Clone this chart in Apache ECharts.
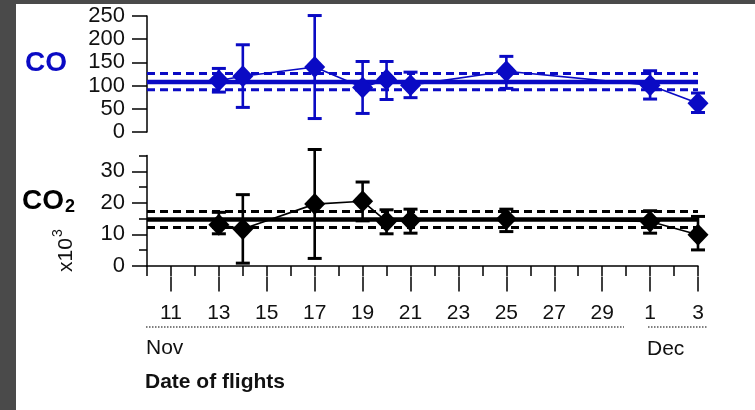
<!DOCTYPE html>
<html>
<head>
<meta charset="utf-8">
<script src="https://cdn.jsdelivr.net/npm/echarts@6/dist/echarts.min.js"></script>
<style>
  html, body { margin: 0; padding: 0; background: #fff; }
  #chart { position: absolute; left: 0; top: 0; width: 755px; height: 410px; }
  .frame { position: absolute; background: #4a4a4a; }
</style>
</head>
<body>
<div id="chart"></div>
<div class="frame" style="left:0;top:0;width:16px;height:410px"></div>
<div class="frame" style="left:0;top:0;width:755px;height:4px"></div>
<script>
// x axis: one tick per day from Nov 10 to Dec 3 (days counted from Nov 0, so Dec 1 = 31)
var dayLabels = ['10', '11', '12', '13', '14', '15', '16', '17', '18', '19', '20',
  '21', '22', '23', '24', '25', '26', '27', '28', '29', '30', '1', '2', '3'];
var flightDays = [13, 14, 17, 19, 20, 21, 25, 31, 33];

// CO
var coValues = [111, 120, 140, 96, 113, 101, 131, 101, 62];
var coLow = [86, 53, 29, 40, 70, 74, 94, 71, 42];
var coHigh = [137, 188, 251, 152, 152, 129, 163, 132, 84];
var coMean = 108;
var coBand = [91, 126];

// CO2 (x10^3)
var co2Values = [13.1, 11.7, 19.6, 20.5, 14.1, 14.4, 14.9, 14.1, 9.9];
var co2Low = [10.2, 0.9, 2.4, 14.3, 10.2, 10.4, 10.9, 10.4, 5.1];
var co2High = [17.0, 22.6, 36.9, 26.6, 17.8, 18.0, 18.0, 17.5, 15.7];
var co2Mean = 14.7;
var co2Band = [12.2, 17.3];
var co2TickLabels = ['0', '5', '10', '15', '20', '25', '30', '35'];

var BLUE = '#0a0ac4';
var FONT = "'Liberation Sans', Arial, sans-serif";
var dayMin = 10, dayMax = 33;

function pairs(xs, ys) {
  return xs.map(function (x, i) { return [x, ys[i]]; });
}

function hLine(v, color, width, dash, xi, yi) {
  return {
    type: 'line', xAxisIndex: xi, yAxisIndex: yi, silent: true, z: 1,
    data: [[dayMin, v], [dayMax, v]], showSymbol: false, symbol: 'none',
    lineStyle: { color: color, width: width, type: dash }
  };
}

function errorBars(low, high, color, xi, yi) {
  return {
    type: 'custom', xAxisIndex: xi, yAxisIndex: yi, silent: true, z: 3,
    data: flightDays.map(function (d, i) { return [d, low[i], high[i]]; }),
    encode: { x: 0, y: [1, 2] },
    renderItem: function (params, api) {
      var lo = api.coord([api.value(0), api.value(1)]);
      var hi = api.coord([api.value(0), api.value(2)]);
      var w = 7;
      var cap = { stroke: color, lineWidth: 3 };
      return {
        type: 'group',
        children: [
          { type: 'line', shape: { x1: hi[0], y1: hi[1], x2: lo[0], y2: lo[1] }, style: { stroke: color, lineWidth: 2.6 } },
          { type: 'line', shape: { x1: hi[0] - w, y1: hi[1], x2: hi[0] + w, y2: hi[1] }, style: cap },
          { type: 'line', shape: { x1: lo[0] - w, y1: lo[1], x2: lo[0] + w, y2: lo[1] }, style: cap }
        ]
      };
    }
  };
}

function joinLine(values, color, xi, yi) {
  return {
    type: 'line', xAxisIndex: xi, yAxisIndex: yi, silent: true, z: 4,
    data: pairs(flightDays, values), symbol: 'none',
    lineStyle: { color: color, width: 1.6 }
  };
}

function diamonds(values, color, xi, yi) {
  return {
    type: 'scatter', xAxisIndex: xi, yAxisIndex: yi, silent: true, z: 5,
    data: pairs(flightDays, values), symbol: 'diamond', symbolSize: [21, 22],
    itemStyle: { color: color, opacity: 1 }
  };
}

var chart = echarts.init(document.getElementById('chart'));

var axisLineStyle = { color: '#000', width: 1.5 };

var option = {
  animation: false,
  backgroundColor: '#fff',
  textStyle: { fontFamily: FONT },
  grid: [
    { left: 147, top: 16, width: 551, height: 116 },
    { left: 147, top: 155.5, width: 551, height: 110.5 }
  ],
  xAxis: [
    { type: 'value', gridIndex: 0, min: dayMin, max: dayMax, show: false },
    {
      type: 'value', gridIndex: 1, position: 'bottom', offset: 10.5,
      min: dayMin, max: dayMax, interval: 1,
      axisLine: { lineStyle: axisLineStyle },
      axisTick: { length: 10, lineStyle: { color: '#000', width: 1.5 } },
      axisLabel: { show: false },
      splitLine: { show: false }
    },
    {
      type: 'category', gridIndex: 1, position: 'bottom', offset: 10.5,
      data: dayLabels, boundaryGap: false,
      axisLine: { show: false },
      axisTick: {
        length: 15, lineStyle: { color: '#000', width: 1.5 },
        interval: function (i) { return i % 2 === 1; }
      },
      axisLabel: {
        interval: function (i) { return i % 2 === 1; },
        color: '#111', fontSize: 21, fontFamily: FONT, margin: 26
      },
      splitLine: { show: false }
    }
  ],
  yAxis: [
    {
      type: 'value', gridIndex: 0, position: 'left', min: 0, max: 250, interval: 50,
      axisLine: { show: true, lineStyle: axisLineStyle },
      axisTick: { show: true, length: 15, lineStyle: { color: '#000', width: 1.5 } },
      axisLabel: { color: '#111', fontSize: 22, fontFamily: FONT, margin: 22 },
      splitLine: { show: false }
    },
    {
      type: 'value', gridIndex: 1, position: 'left', min: 0, max: 35, interval: 5,
      axisLine: { show: true, lineStyle: axisLineStyle },
      axisTick: { show: true, length: 8, lineStyle: { color: '#000', width: 1.5 } },
      axisLabel: { show: false },
      splitLine: { show: false }
    },
    {
      type: 'category', gridIndex: 1, position: 'left',
      data: co2TickLabels, boundaryGap: false,
      axisLine: { show: false },
      axisTick: {
        length: 15, lineStyle: { color: '#000', width: 1.5 },
        interval: function (i) { return i % 2 === 0; }
      },
      axisLabel: {
        interval: function (i) { return i % 2 === 0; },
        color: '#111', fontSize: 22, fontFamily: FONT, margin: 22
      },
      splitLine: { show: false }
    }
  ],
  series: [
    hLine(coMean, BLUE, 4.5, 'solid', 0, 0),
    hLine(coBand[0], BLUE, 3, [8, 5], 0, 0),
    hLine(coBand[1], BLUE, 3, [8, 5], 0, 0),
    errorBars(coLow, coHigh, BLUE, 0, 0),
    joinLine(coValues, BLUE, 0, 0),
    diamonds(coValues, BLUE, 0, 0),

    hLine(co2Mean, '#000', 4.5, 'solid', 1, 1),
    hLine(co2Band[0], '#000', 3, [8, 5], 1, 1),
    hLine(co2Band[1], '#000', 3, [8, 5], 1, 1),
    errorBars(co2Low, co2High, '#000', 1, 1),
    joinLine(co2Values, '#000', 1, 1),
    diamonds(co2Values, '#000', 1, 1)
  ],
  graphic: [
    { type: 'text', x: 25, y: 63, style: { text: 'CO', fill: BLUE, font: 'bold 28px ' + FONT, textAlign: 'left', textVerticalAlign: 'middle' } },
    { type: 'text', x: 22, y: 201, style: { text: 'CO', fill: '#000', font: 'bold 28px ' + FONT, textAlign: 'left', textVerticalAlign: 'middle' } },
    { type: 'text', x: 65, y: 207.5, style: { text: '2', fill: '#000', font: 'bold 18px ' + FONT, textAlign: 'left', textVerticalAlign: 'middle' } },
    { type: 'text', x: 66, y: 272, rotation: Math.PI / 2, style: { text: 'x10', fill: '#111', font: '21px ' + FONT, textAlign: 'left', textVerticalAlign: 'middle' } },
    { type: 'text', x: 58, y: 237, rotation: Math.PI / 2, style: { text: '3', fill: '#111', font: '14px ' + FONT, textAlign: 'left', textVerticalAlign: 'middle' } },
    { type: 'line', shape: { x1: 146, y1: 327, x2: 624, y2: 327 }, style: { stroke: '#555', lineWidth: 1.5, lineDash: [1.5, 1.5] } },
    { type: 'line', shape: { x1: 648, y1: 327, x2: 707, y2: 327 }, style: { stroke: '#555', lineWidth: 1.5, lineDash: [1.5, 1.5] } },
    { type: 'text', x: 146, y: 348, style: { text: 'Nov', fill: '#111', font: '21px ' + FONT, textAlign: 'left', textVerticalAlign: 'middle' } },
    { type: 'text', x: 647, y: 349, style: { text: 'Dec', fill: '#111', font: '21px ' + FONT, textAlign: 'left', textVerticalAlign: 'middle' } },
    { type: 'text', x: 145, y: 382, style: { text: 'Date of flights', fill: '#111', font: 'bold 21px ' + FONT, textAlign: 'left', textVerticalAlign: 'middle' } }
  ]
};

chart.setOption(option);
</script>
</body>
</html>
